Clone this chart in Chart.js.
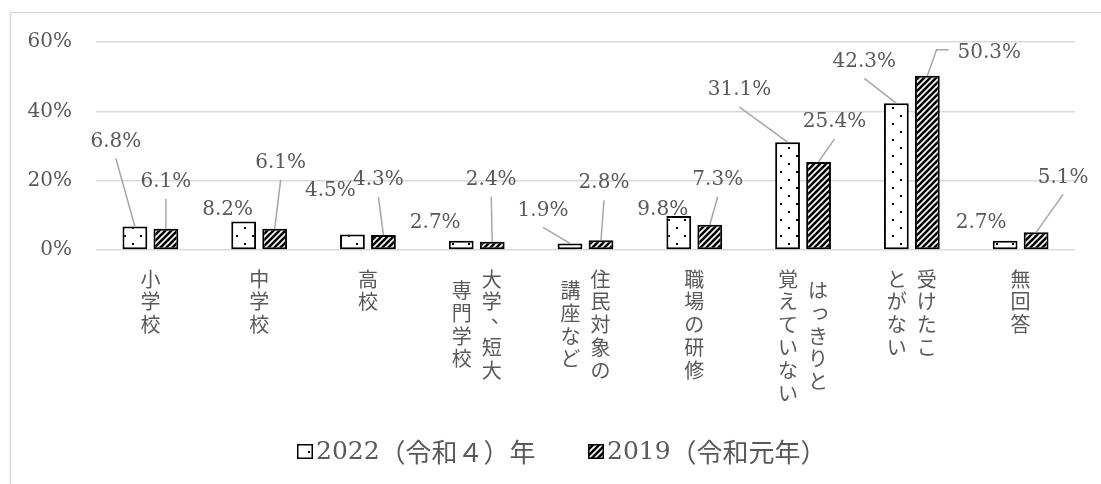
<!DOCTYPE html>
<html lang="ja">
<head>
<meta charset="utf-8">
<script src="https://cdn.jsdelivr.net/npm/chart.js@4.4.1/dist/chart.umd.min.js"></script>
<style>
  body { margin: 0; background: #fff; }
  #wrap { width: 1101px; height: 484px; }
</style>
</head>
<body>
<div id="wrap"><canvas id="eduChart"></canvas></div>
<script>
// categories: each entry is the list of vertical columns, right to left
const categories = [
  ['小学校'], ['中学校'], ['高校'], ['大学、短大', '専門学校'], ['住民対象の', '講座など'],
  ['職場の研修'], ['はっきりと', '覚えていない'], ['受けたこ', 'とがない'], ['無回答']
];
const seriesNames = ['2022（令和４）年', '2019（令和元年）'];
const values2022 = [6.8, 8.2, 4.5, 2.7, 1.9, 9.8, 31.1, 42.3, 2.7];
const values2019 = [6.1, 6.1, 4.3, 2.4, 2.8, 7.3, 25.4, 50.3, 5.1];
const yTickValues = [0, 20, 40, 60];

// where each data label sits relative to its bar top: [dx, dy, leader]
// leader: 0 none, 1 line from label bottom, 2 hook from label left
const labelPos2022 = [[-19, -85, 1], [-16, -12, 0], [-22, -44, 0], [-26, -18, 0], [-27, -33, 1],
  [-16, -6, 0], [-48, -52, 1], [-32, -42, 1], [-24, -18, 0]];
const labelPos2019 = [[0, -47, 1], [6, -66, 1], [-5, -55, 1], [-1, -62, 1], [3, -57, 1],
  [8, -45, 1], [16, -40, 1], [62, -23, 2], [27, -55, 1]];

const GREY = '#595959';
const GRID = '#d9d9d9';
const SERIF = '"DejaVu Serif", "Liberation Serif", "Times New Roman", "Noto Serif", serif';
const CJK = '"Noto Sans CJK JP"';

// fill patterns: sparse dots for 2022, diagonal hatch for 2019
function dotPattern() {
  const c = document.createElement('canvas');
  c.width = 16; c.height = 16;
  const g = c.getContext('2d');
  g.fillStyle = '#fff';
  g.fillRect(0, 0, 16, 16);
  g.fillStyle = '#000';
  g.fillRect(4, 3, 2, 2);
  g.fillRect(12, 11, 2, 2);
  return g.createPattern(c, 'repeat');
}
function hatchPattern() {
  const c = document.createElement('canvas');
  c.width = 6; c.height = 6;
  const g = c.getContext('2d');
  g.fillStyle = '#fff';
  g.fillRect(0, 0, 6, 6);
  g.strokeStyle = '#000';
  g.lineWidth = 2.6;
  g.beginPath();
  g.moveTo(-1, 7); g.lineTo(7, -1);
  g.moveTo(-4, 4); g.lineTo(4, -4);
  g.moveTo(2, 10); g.lineTo(10, 2);
  g.stroke();
  return g.createPattern(c, 'repeat');
}

// outer frame (only top and left edges are inside the picture)
const frame = {
  id: 'frame',
  beforeDraw(chart) {
    const { ctx, width, height } = chart;
    ctx.save();
    ctx.fillStyle = '#fff';
    ctx.fillRect(0, 0, width, height);
    ctx.strokeStyle = GRID;
    ctx.lineWidth = 1.5;
    ctx.beginPath();
    ctx.moveTo(10.5, height);
    ctx.lineTo(10.5, 12.5);
    ctx.lineTo(width, 12.5);
    ctx.stroke();
    ctx.restore();
  }
};

// data labels with leader lines
const valueLabels = {
  id: 'valueLabels',
  afterDatasetsDraw(chart) {
    const { ctx } = chart;
    const positions = [labelPos2022, labelPos2019];
    ctx.save();
    ctx.font = '20px ' + SERIF;
    ctx.textAlign = 'center';
    ctx.textBaseline = 'middle';
    chart.data.datasets.forEach((ds, i) => {
      chart.getDatasetMeta(i).data.forEach((bar, j) => {
        const [dx, dy, leader] = positions[i][j];
        const text = ds.data[j].toFixed(1) + '%';
        const lx = bar.x + dx, ly = bar.y + dy;
        ctx.strokeStyle = '#a6a6a6';
        ctx.lineWidth = 1.5;
        if (leader === 1) {
          ctx.beginPath();
          ctx.moveTo(lx, ly + 17);
          ctx.lineTo(bar.x, bar.y);
          ctx.stroke();
        } else if (leader === 2) {
          const w = ctx.measureText(text).width;
          const hx = lx - w / 2 - 9, hy = ly - 3;
          ctx.beginPath();
          ctx.moveTo(hx, hy);
          ctx.lineTo(hx - 12, hy);
          ctx.lineTo(bar.x, bar.y);
          ctx.stroke();
        }
        ctx.fillStyle = GREY;
        ctx.fillText(text, lx, ly);
      });
    });
    ctx.restore();
  }
};

// vertical category labels under the axis
const verticalLabels = {
  id: 'verticalLabels',
  afterDraw(chart) {
    const { ctx, chartArea, scales: { x } } = chart;
    const step = 22.8;
    ctx.save();
    ctx.font = '20px ' + CJK;
    ctx.fillStyle = GREY;
    ctx.textAlign = 'center';
    ctx.textBaseline = 'middle';
    categories.forEach((cols, i) => {
      const cx = x.getPixelForValue(i);
      const maxLen = Math.max(...cols.map(c => c.length));
      cols.forEach((col, k) => {
        const colX = cx + (cols.length - 1) * 15 - k * 30;
        const off = (maxLen - col.length) / 2;
        [...col].forEach((ch, n) => {
          let px = colX, py = chartArea.bottom + 29 + (off + n) * step;
          if (ch === '、') { px += 9; py -= 9; }
          else if (ch === 'っ') { px += 2; py -= 2; }
          ctx.fillText(ch, px, py);
        });
      });
    });
    ctx.restore();
  }
};

// legend drawn by hand: small box right next to the text, year in serif, the rest in CJK
const legendRow = {
  id: 'legendRow',
  afterDraw(chart) {
    const { ctx } = chart;
    const y = 452, box = 16, gap = 3;
    const startX = [297, 588];
    ctx.save();
    ctx.textBaseline = 'middle';
    ctx.textAlign = 'left';
    chart.data.datasets.forEach((ds, i) => {
      let cx = startX[i];
      ctx.fillStyle = ds.backgroundColor;
      ctx.fillRect(cx, y - box / 2, box, box - 1);
      ctx.strokeStyle = '#000';
      ctx.lineWidth = 1.5;
      ctx.strokeRect(cx + 0.75, y - box / 2 + 0.75, box - 1.5, box - 2.5);
      cx += box + gap;
      const cut = ds.label.indexOf('（');
      ctx.fillStyle = GREY;
      ctx.font = '25px ' + SERIF;
      ctx.fillText(ds.label.slice(0, cut), cx, y);
      cx += ctx.measureText(ds.label.slice(0, cut)).width;
      ctx.font = '26px ' + CJK;
      ctx.fillText(ds.label.slice(cut), cx, y);
    });
    ctx.restore();
  }
};

new Chart(document.getElementById('eduChart'), {
  type: 'bar',
  data: {
    labels: categories.map(c => c.join('')),
    datasets: [
      {
        label: seriesNames[0],
        data: values2022,
        backgroundColor: dotPattern(),
        borderColor: '#000',
        borderWidth: 2,
        borderSkipped: false,
      },
      {
        label: seriesNames[1],
        data: values2019,
        backgroundColor: hatchPattern(),
        borderColor: '#000',
        borderWidth: 2,
        borderSkipped: false,
      },
    ],
  },
  options: {
    responsive: true,
    maintainAspectRatio: false,
    animation: false,
    categoryPercentage: 0.57,
    barPercentage: 0.8,
    layout: { padding: { top: 42, left: 0, right: 26, bottom: 84 } },
    plugins: {
      tooltip: { enabled: false },
      legend: { display: false },
    },
    scales: {
      x: {
        grid: { display: false },
        border: { display: false },
        ticks: { display: false },
        afterFit(scale) { scale.height = 150; },
      },
      y: {
        min: 0,
        max: 60,
        afterBuildTicks(scale) { scale.ticks = yTickValues.map(v => ({ value: v })); },
        grid: { color: GRID, lineWidth: 1.5, drawTicks: false },
        border: { display: false },
        ticks: {
          color: GREY,
          font: { family: SERIF, size: 20 },
          padding: 24,
          callback: v => v + '%',
        },
        afterFit(scale) { scale.width = 96; },
      },
    },
  },
  plugins: [frame, valueLabels, verticalLabels, legendRow],
});
</script>
</body>
</html>
